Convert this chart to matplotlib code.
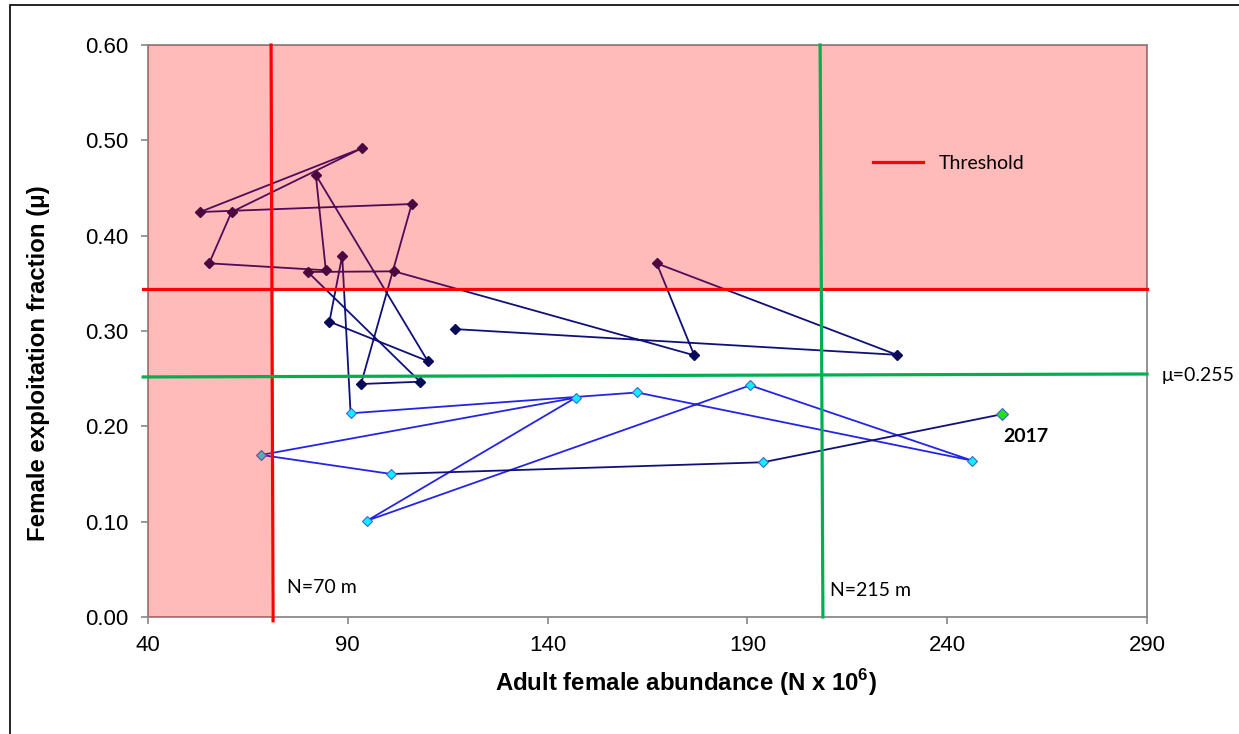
import matplotlib
matplotlib.use("Agg")
import matplotlib.pyplot as plt
from matplotlib.patches import Rectangle

# Chesapeake blue crab: adult female abundance vs female exploitation fraction
years = list(range(1990, 2018))
abundance = [116.8, 227.4, 167.3, 176.7, 101.6, 80.0, 108.1, 93.3, 106.0, 53.0,
             93.5, 60.9, 55.3, 84.5, 82.0, 110.0, 85.4, 88.6, 90.7, 162.4,
             246.3, 190.7, 94.8, 147.0, 68.3, 100.9, 193.9, 253.6]
exploitation = [0.302, 0.275, 0.371, 0.2745, 0.3626, 0.3619, 0.2468, 0.2444, 0.4332, 0.4248,
                0.4917, 0.4248, 0.371, 0.3637, 0.4637, 0.2685, 0.3098, 0.379, 0.2137, 0.2355,
                0.164, 0.243, 0.101, 0.230, 0.170, 0.150, 0.1623, 0.2126]

# reference points (as drawn on the original chart)
thr_mu = 0.344
thr_N = 71.0
tgt_mu_ends = [0.2518, 0.2549]
tgt_N_ends = [208.2, 208.9]

navy = '#10107a'
blue = '#2424e6'
plt.rcParams['font.family'] = ['Liberation Sans', 'DejaVu Sans']
plt.rcParams['mathtext.fontset'] = 'custom'
plt.rcParams['mathtext.rm'] = 'Liberation Sans'
plt.rcParams['mathtext.bf'] = 'Liberation Sans:bold'

fig = plt.figure(figsize=(12.39, 7.34), dpi=100)
ax = fig.add_axes([148 / 1239, 1 - 617 / 734, 999 / 1239, 572 / 734])

i08 = years.index(2008)
i15 = years.index(2015)
ax.plot(abundance[:i08 + 1], exploitation[:i08 + 1], color=navy, lw=1.3, zorder=2)
ax.plot(abundance[i08:i15 + 1], exploitation[i08:i15 + 1], color=blue, lw=1.3, zorder=2)
ax.plot(abundance[i15:], exploitation[i15:], color=navy, lw=1.3, zorder=2)

ax.plot(abundance[:i08], exploitation[:i08], 'D', ms=4.8, color='#0a0a5a', zorder=3)
ax.plot(abundance[i08:-1], exploitation[i08:-1], 'D', ms=5.6, mfc='#11eeff',
        mec='#3a6ad0', mew=0.8, zorder=3)
ax.plot(abundance[-1:], exploitation[-1:], 'D', ms=6.2, mfc='#22dd22',
        mec='#3a6ad0', mew=0.8, zorder=3)

# shaded (overfished / overfishing) zone laid over the data
ax.axhspan(thr_mu, 0.6, color='#ff0000', alpha=0.27, lw=0, zorder=4)
ax.axvspan(40, thr_N - 0.2, ymax=thr_mu / 0.6, color='#ff0000', alpha=0.27, lw=0, zorder=4)

ax.plot([38.8, 290], [thr_mu, thr_mu], color='red', lw=2.3, zorder=5, clip_on=False,
        label='Threshold')
ax.plot([thr_N - 0.2, thr_N + 0.3], [0.6, -0.004], color='red', lw=2.3, zorder=5, clip_on=False)
ax.plot([38.8, 290], tgt_mu_ends, color='#00b050', lw=2.3, zorder=5, clip_on=False)
ax.plot(tgt_N_ends, [0.6, 0.0], color='#00b050', lw=2.3, zorder=5, clip_on=False)

ax.set_xlim(40, 290)
ax.set_ylim(0, 0.6)
ax.set_xticks([40, 90, 140, 190, 240, 290])
ax.set_yticks([0, 0.1, 0.2, 0.3, 0.4, 0.5, 0.6])
ax.set_yticklabels(['%.2f' % v for v in ax.get_yticks()])
ax.tick_params(axis='both', labelsize=16, color='#868686', length=5, width=1.2)
ax.tick_params(axis='x', pad=8)
ax.tick_params(axis='y', pad=9)
for s in ax.spines.values():
    s.set_color('#8a8a8a')
    s.set_linewidth(1.3)

ax.set_xlabel(r'Adult female abundance (N x 10$^{\mathbf{6}}$)', fontsize=17.3, fontweight='bold')
ax.xaxis.set_label_coords(0.5385, -0.087)
ax.set_ylabel('Female exploitation fraction (μ)', fontsize=17.3, fontweight='bold')
ax.yaxis.set_label_coords(-0.098, 0.444)

lato = ['Lato', 'DejaVu Sans']
ax.text(74.7, 0.031, 'N=70 m', fontsize=14, family=lato, va='center', zorder=6)
ax.text(210.7, 0.028, 'N=215 m', fontsize=14, family=lato, va='center', zorder=6)
ax.text(293.6, 0.253, 'μ=0.255', fontsize=14, family=lato, va='center', clip_on=False)
ax.text(254.0, 0.189, '2017', fontsize=14, family=lato, fontweight='bold', va='center', zorder=6)

leg = ax.legend(loc='upper left', bbox_to_anchor=(0.708, 0.838), frameon=False,
                prop={'family': lato, 'size': 14}, handlelength=2.6, handletextpad=0.8)
leg.set_zorder(7)

fig.add_artist(Rectangle((9.5 / 1239, -0.05), 1.2, 1.05 - 5 / 734, transform=fig.transFigure,
                         fill=False, ec='black', lw=1.2))

fig.savefig('out.png', dpi=100)
